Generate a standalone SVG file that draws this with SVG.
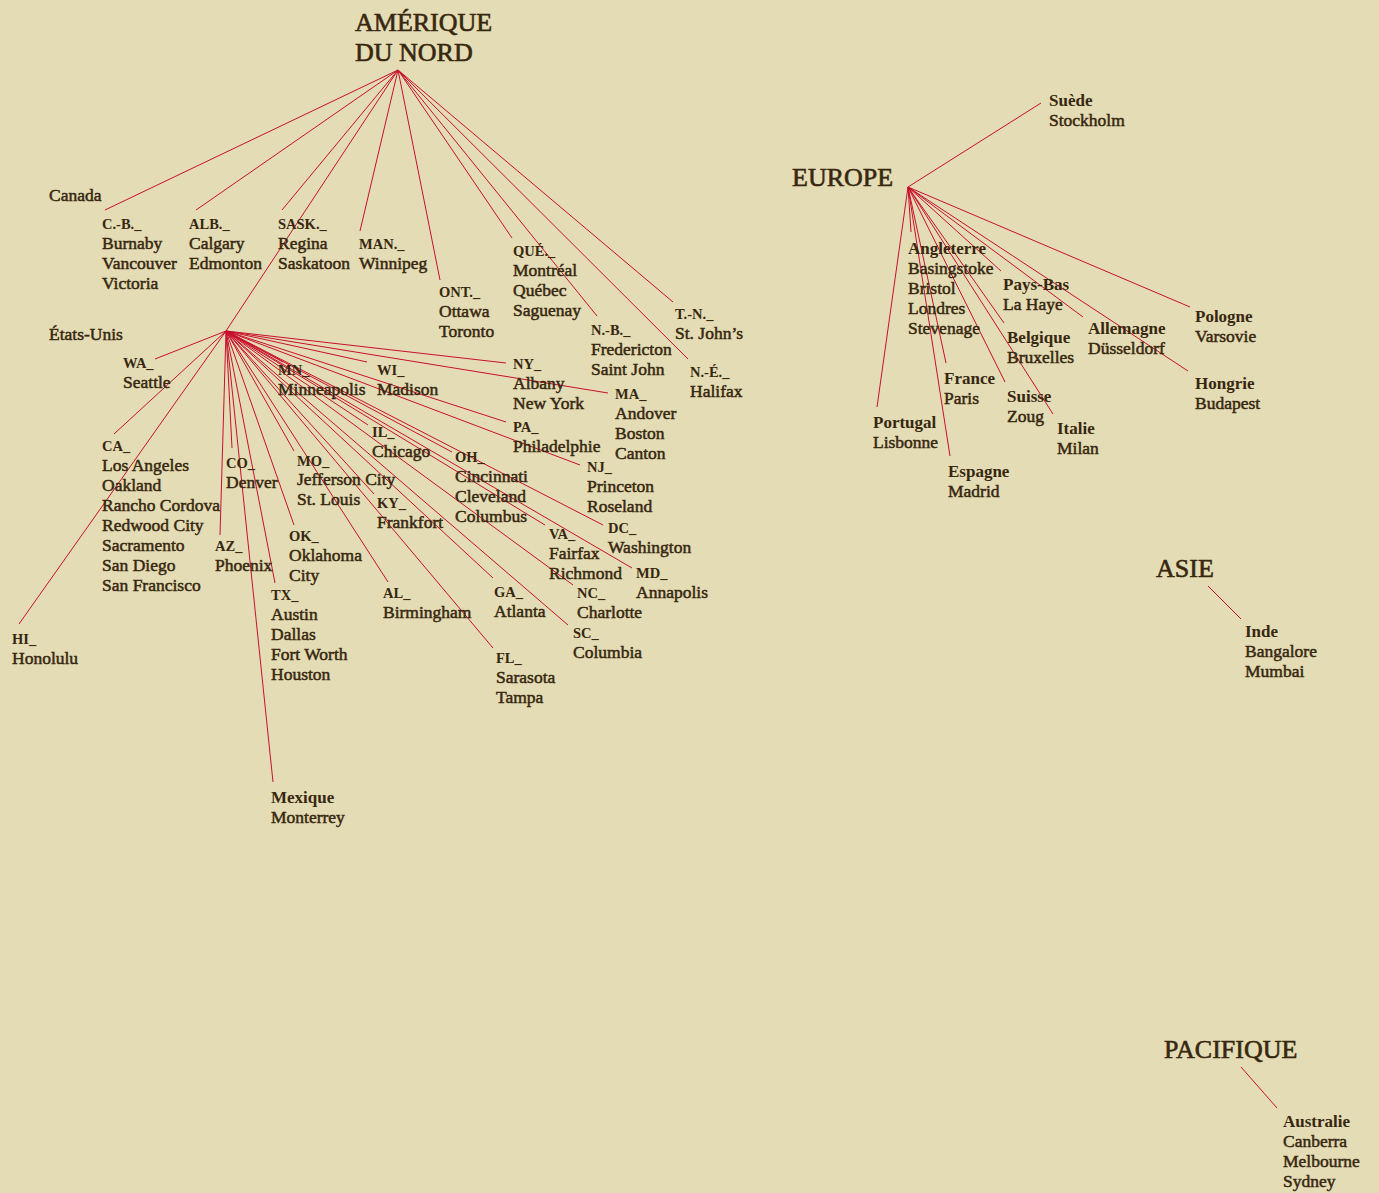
<svg xmlns="http://www.w3.org/2000/svg" width="1379" height="1193" viewBox="0 0 1379 1193">
<style>
text{font-family:"Liberation Serif","Times New Roman",serif;fill:#38270f}
.c{font-size:17.5px;stroke:#38270f;stroke-width:0.5}
.h{font-size:17px;font-weight:bold}
.a{font-size:14.5px;font-weight:bold}
.T{font-size:26px;stroke:#38270f;stroke-width:0.6}
#connectors line{stroke:#c8102e;stroke-width:1;fill:none}
</style>
<rect width="1379" height="1193" fill="#e3dcb5"/>
<g id="connectors">
<line x1="398" y1="70" x2="105" y2="210"/>
<line x1="398" y1="70" x2="196" y2="210"/>
<line x1="398" y1="70" x2="282" y2="210"/>
<line x1="398" y1="70" x2="226" y2="331"/>
<line x1="398" y1="70" x2="360" y2="231"/>
<line x1="398" y1="70" x2="440" y2="280"/>
<line x1="398" y1="70" x2="512" y2="238"/>
<line x1="398" y1="70" x2="597" y2="316"/>
<line x1="398" y1="70" x2="688" y2="359"/>
<line x1="398" y1="70" x2="673" y2="302"/>
<line x1="226" y1="331" x2="155" y2="359"/>
<line x1="226" y1="331" x2="114" y2="434"/>
<line x1="226" y1="331" x2="19" y2="624"/>
<line x1="226" y1="331" x2="220" y2="535"/>
<line x1="226" y1="331" x2="232" y2="448"/>
<line x1="226" y1="331" x2="275" y2="583"/>
<line x1="226" y1="331" x2="273" y2="782"/>
<line x1="226" y1="331" x2="294" y2="525"/>
<line x1="226" y1="331" x2="294" y2="451"/>
<line x1="226" y1="331" x2="283" y2="362"/>
<line x1="226" y1="331" x2="367" y2="362"/>
<line x1="226" y1="331" x2="368" y2="425"/>
<line x1="226" y1="331" x2="374" y2="494"/>
<line x1="226" y1="331" x2="388" y2="582"/>
<line x1="226" y1="331" x2="493" y2="648"/>
<line x1="226" y1="331" x2="493" y2="578"/>
<line x1="226" y1="331" x2="568" y2="625"/>
<line x1="226" y1="331" x2="573" y2="585"/>
<line x1="226" y1="331" x2="545" y2="525"/>
<line x1="226" y1="331" x2="452" y2="452"/>
<line x1="226" y1="331" x2="632" y2="568"/>
<line x1="226" y1="331" x2="603" y2="525"/>
<line x1="226" y1="331" x2="580" y2="465"/>
<line x1="226" y1="331" x2="506" y2="422"/>
<line x1="226" y1="331" x2="506" y2="363"/>
<line x1="226" y1="331" x2="608" y2="393"/>
<line x1="908" y1="187" x2="1041" y2="103"/>
<line x1="908" y1="187" x2="911" y2="232"/>
<line x1="908" y1="187" x2="1001" y2="271"/>
<line x1="908" y1="187" x2="1004" y2="323"/>
<line x1="908" y1="187" x2="1083" y2="317"/>
<line x1="908" y1="187" x2="1190" y2="307"/>
<line x1="908" y1="187" x2="1188" y2="371"/>
<line x1="908" y1="187" x2="946" y2="363"/>
<line x1="908" y1="187" x2="877" y2="407"/>
<line x1="908" y1="187" x2="950" y2="456"/>
<line x1="908" y1="187" x2="1005" y2="382"/>
<line x1="908" y1="187" x2="1053" y2="414"/>
<line x1="1208" y1="586" x2="1241" y2="619"/>
<line x1="1241" y1="1067" x2="1277" y2="1108"/>
</g>
<g id="amerique-du-nord"><text class="T" x="355" y="31">AMÉRIQUE</text><text class="T" x="355" y="61">DU NORD</text></g>
<g id="canada"><text class="c" x="49" y="201">Canada</text></g>
<g id="cb"><text class="a" x="102" y="229">C.-B._</text><text class="c" x="102" y="249">Burnaby<tspan x="102" dy="20">Vancouver</tspan><tspan x="102" dy="20">Victoria</tspan></text></g>
<g id="alb"><text class="a" x="189" y="229">ALB._</text><text class="c" x="189" y="249">Calgary<tspan x="189" dy="20">Edmonton</tspan></text></g>
<g id="sask"><text class="a" x="278" y="229">SASK._</text><text class="c" x="278" y="249">Regina<tspan x="278" dy="20">Saskatoon</tspan></text></g>
<g id="man"><text class="a" x="359" y="249">MAN._</text><text class="c" x="359" y="269">Winnipeg</text></g>
<g id="ont"><text class="a" x="439" y="297">ONT._</text><text class="c" x="439" y="317">Ottawa<tspan x="439" dy="20">Toronto</tspan></text></g>
<g id="que"><text class="a" x="513" y="256">QUÉ._</text><text class="c" x="513" y="276">Montréal<tspan x="513" dy="20">Québec</tspan><tspan x="513" dy="20">Saguenay</tspan></text></g>
<g id="nb"><text class="a" x="591" y="335">N.-B._</text><text class="c" x="591" y="355">Fredericton<tspan x="591" dy="20">Saint John</tspan></text></g>
<g id="tn"><text class="a" x="675" y="319">T.-N._</text><text class="c" x="675" y="339">St. John’s</text></g>
<g id="ne"><text class="a" x="690" y="377">N.-É._</text><text class="c" x="690" y="397">Halifax</text></g>
<g id="etats-unis"><text class="c" x="49" y="340">États-Unis</text></g>
<g id="wa"><text class="a" x="123" y="368">WA_</text><text class="c" x="123" y="388">Seattle</text></g>
<g id="ca"><text class="a" x="102" y="451">CA_</text><text class="c" x="102" y="471">Los Angeles<tspan x="102" dy="20">Oakland</tspan><tspan x="102" dy="20">Rancho Cordova</tspan><tspan x="102" dy="20">Redwood City</tspan><tspan x="102" dy="20">Sacramento</tspan><tspan x="102" dy="20">San Diego</tspan><tspan x="102" dy="20">San Francisco</tspan></text></g>
<g id="hi"><text class="a" x="12" y="644">HI_</text><text class="c" x="12" y="664">Honolulu</text></g>
<g id="co"><text class="a" x="226" y="468">CO_</text><text class="c" x="226" y="488">Denver</text></g>
<g id="az"><text class="a" x="215" y="551">AZ_</text><text class="c" x="215" y="571">Phoenix</text></g>
<g id="tx"><text class="a" x="271" y="600">TX_</text><text class="c" x="271" y="620">Austin<tspan x="271" dy="20">Dallas</tspan><tspan x="271" dy="20">Fort Worth</tspan><tspan x="271" dy="20">Houston</tspan></text></g>
<g id="ok"><text class="a" x="289" y="541">OK_</text><text class="c" x="289" y="561">Oklahoma<tspan x="289" dy="20">City</tspan></text></g>
<g id="mexique"><text class="h" x="271" y="803">Mexique</text><text class="c" x="271" y="823">Monterrey</text></g>
<g id="mn"><text class="a" x="278" y="375">MN_</text><text class="c" x="278" y="395">Minneapolis</text></g>
<g id="wi"><text class="a" x="377" y="375">WI_</text><text class="c" x="377" y="395">Madison</text></g>
<g id="mo"><text class="a" x="297" y="466">MO_</text><text class="c" x="297" y="485">Jefferson City<tspan x="297" dy="20">St. Louis</tspan></text></g>
<g id="il"><text class="a" x="372" y="437">IL_</text><text class="c" x="372" y="457">Chicago</text></g>
<g id="ky"><text class="a" x="377" y="508">KY_</text><text class="c" x="377" y="528">Frankfort</text></g>
<g id="al"><text class="a" x="383" y="598">AL_</text><text class="c" x="383" y="618">Birmingham</text></g>
<g id="oh"><text class="a" x="455" y="462">OH_</text><text class="c" x="455" y="482">Cincinnati<tspan x="455" dy="20">Cleveland</tspan><tspan x="455" dy="20">Columbus</tspan></text></g>
<g id="ga"><text class="a" x="494" y="597">GA_</text><text class="c" x="494" y="617">Atlanta</text></g>
<g id="fl"><text class="a" x="496" y="663">FL_</text><text class="c" x="496" y="683">Sarasota<tspan x="496" dy="20">Tampa</tspan></text></g>
<g id="va"><text class="a" x="549" y="539">VA_</text><text class="c" x="549" y="559">Fairfax<tspan x="549" dy="20">Richmond</tspan></text></g>
<g id="nc"><text class="a" x="577" y="598">NC_</text><text class="c" x="577" y="618">Charlotte</text></g>
<g id="sc"><text class="a" x="573" y="638">SC_</text><text class="c" x="573" y="658">Columbia</text></g>
<g id="dc"><text class="a" x="608" y="533">DC_</text><text class="c" x="608" y="553">Washington</text></g>
<g id="md"><text class="a" x="636" y="578">MD_</text><text class="c" x="636" y="598">Annapolis</text></g>
<g id="nj"><text class="a" x="587" y="472">NJ_</text><text class="c" x="587" y="492">Princeton<tspan x="587" dy="20">Roseland</tspan></text></g>
<g id="pa"><text class="a" x="513" y="432">PA_</text><text class="c" x="513" y="452">Philadelphie</text></g>
<g id="ny"><text class="a" x="513" y="369">NY_</text><text class="c" x="513" y="389">Albany<tspan x="513" dy="20">New York</tspan></text></g>
<g id="ma"><text class="a" x="615" y="399">MA_</text><text class="c" x="615" y="419">Andover<tspan x="615" dy="20">Boston</tspan><tspan x="615" dy="20">Canton</tspan></text></g>
<g id="europe"><text class="T" x="792" y="186">EUROPE</text></g>
<g id="suede"><text class="h" x="1049" y="106">Suède</text><text class="c" x="1049" y="126">Stockholm</text></g>
<g id="angleterre"><text class="h" x="908" y="254">Angleterre</text><text class="c" x="908" y="274">Basingstoke<tspan x="908" dy="20">Bristol</tspan><tspan x="908" dy="20">Londres</tspan><tspan x="908" dy="20">Stevenage</tspan></text></g>
<g id="pays-bas"><text class="h" x="1003" y="290">Pays-Bas</text><text class="c" x="1003" y="310">La Haye</text></g>
<g id="belgique"><text class="h" x="1007" y="343">Belgique</text><text class="c" x="1007" y="363">Bruxelles</text></g>
<g id="allemagne"><text class="h" x="1088" y="334">Allemagne</text><text class="c" x="1088" y="354">Düsseldorf</text></g>
<g id="pologne"><text class="h" x="1195" y="322">Pologne</text><text class="c" x="1195" y="342">Varsovie</text></g>
<g id="hongrie"><text class="h" x="1195" y="389">Hongrie</text><text class="c" x="1195" y="409">Budapest</text></g>
<g id="france"><text class="h" x="944" y="384">France</text><text class="c" x="944" y="404">Paris</text></g>
<g id="suisse"><text class="h" x="1007" y="402">Suisse</text><text class="c" x="1007" y="422">Zoug</text></g>
<g id="italie"><text class="h" x="1057" y="434">Italie</text><text class="c" x="1057" y="454">Milan</text></g>
<g id="portugal"><text class="h" x="873" y="428">Portugal</text><text class="c" x="873" y="448">Lisbonne</text></g>
<g id="espagne"><text class="h" x="948" y="477">Espagne</text><text class="c" x="948" y="497">Madrid</text></g>
<g id="asie"><text class="T" x="1156" y="577">ASIE</text></g>
<g id="inde"><text class="h" x="1245" y="637">Inde</text><text class="c" x="1245" y="657">Bangalore<tspan x="1245" dy="20">Mumbai</tspan></text></g>
<g id="pacifique"><text class="T" x="1164" y="1058">PACIFIQUE</text></g>
<g id="australie"><text class="h" x="1283" y="1127">Australie</text><text class="c" x="1283" y="1147">Canberra<tspan x="1283" dy="20">Melbourne</tspan><tspan x="1283" dy="20">Sydney</tspan></text></g>
</svg>
